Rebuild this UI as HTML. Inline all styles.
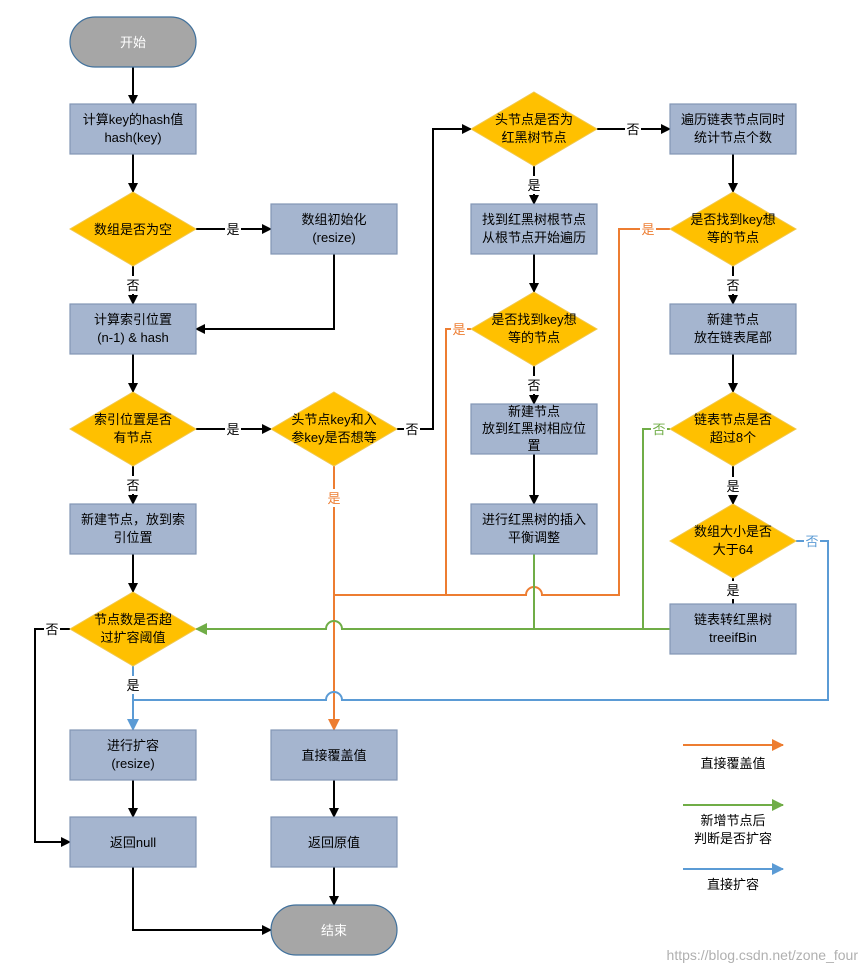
<!DOCTYPE html>
<html><head><meta charset="utf-8"><style>
html,body{margin:0;padding:0;background:#fff;}
svg{display:block;}
text{font-family:"Liberation Sans","Noto Sans CJK SC",sans-serif;font-size:13px;fill:#000;text-anchor:middle;}
.b{fill:#a5b5cf;stroke:#8396b5;stroke-width:1.2;}
.d{fill:#ffc000;stroke:#f0c850;stroke-width:1;}
.k{stroke:#000;stroke-width:2;fill:none;}
.o{stroke:#ed7d31;stroke-width:2;fill:none;}
.g{stroke:#70ad47;stroke-width:2;fill:none;}
.u{stroke:#5b9bd5;stroke-width:2;fill:none;}
</style></head><body>
<svg width="866" height="971" viewBox="0 0 866 971">
<defs>
<marker id="ak" markerWidth="10" markerHeight="10" refX="9" refY="5" orient="auto" markerUnits="userSpaceOnUse"><path d="M0,0 L10,5 L0,10 z" fill="#000"/></marker>
<marker id="ao" markerWidth="12" markerHeight="12" refX="11" refY="6" orient="auto" markerUnits="userSpaceOnUse"><path d="M0,0 L12,6 L0,12 z" fill="#ed7d31"/></marker>
<marker id="ag" markerWidth="12" markerHeight="12" refX="11" refY="6" orient="auto" markerUnits="userSpaceOnUse"><path d="M0,0 L12,6 L0,12 z" fill="#70ad47"/></marker>
<marker id="au" markerWidth="12" markerHeight="12" refX="11" refY="6" orient="auto" markerUnits="userSpaceOnUse"><path d="M0,0 L12,6 L0,12 z" fill="#5b9bd5"/></marker>
</defs>

<!-- black connectors -->
<path class="k" d="M133,67 V104" marker-end="url(#ak)"/>
<path class="k" d="M133,154 V192" marker-end="url(#ak)"/>
<path class="k" d="M133,266 V304" marker-end="url(#ak)"/>
<path class="k" d="M196,229 H271" marker-end="url(#ak)"/>
<path class="k" d="M334,254 V329 H196" marker-end="url(#ak)"/>
<path class="k" d="M133,354 V392" marker-end="url(#ak)"/>
<path class="k" d="M196,429 H271" marker-end="url(#ak)"/>
<path class="k" d="M397,429 H433 V129 H471" marker-end="url(#ak)"/>
<path class="k" d="M133,466 V504" marker-end="url(#ak)"/>
<path class="k" d="M133,554 V592" marker-end="url(#ak)"/>
<path class="k" d="M70,629 H35 V842 H70" marker-end="url(#ak)"/>
<path class="k" d="M133,780 V817" marker-end="url(#ak)"/>
<path class="k" d="M133,867 V930 H271" marker-end="url(#ak)"/>
<path class="k" d="M334,780 V817" marker-end="url(#ak)"/>
<path class="k" d="M334,867 V905" marker-end="url(#ak)"/>
<path class="k" d="M597,129 H670" marker-end="url(#ak)"/>
<path class="k" d="M534,166 V204" marker-end="url(#ak)"/>
<path class="k" d="M534,254 V292" marker-end="url(#ak)"/>
<path class="k" d="M534,366 V404" marker-end="url(#ak)"/>
<path class="k" d="M534,454 V504" marker-end="url(#ak)"/>
<path class="k" d="M733,154 V192" marker-end="url(#ak)"/>
<path class="k" d="M733,266 V304" marker-end="url(#ak)"/>
<path class="k" d="M733,354 V392" marker-end="url(#ak)"/>
<path class="k" d="M733,466 V504" marker-end="url(#ak)"/>
<path class="k" d="M733,578 V604" stroke-width="1"/>

<!-- orange -->
<path class="o" d="M334,466 V730" marker-end="url(#ao)"/>
<path class="o" d="M471,329 H446 V595 H334"/>
<path class="o" d="M670,229 H619 V595 H542 A8,8 0 0 0 526,595 H446"/>
<!-- green -->
<path class="g" d="M670,629 H342 A8,8 0 0 0 326,629 H196" marker-end="url(#ag)"/>
<path class="g" d="M534,554 V629"/>
<path class="g" d="M670,429 H643 V629"/>
<!-- blue -->
<path class="u" d="M796,541 H828 V700 H342 A8,8 0 0 0 326,700 H133 V730" marker-end="url(#au)"/>
<path class="u" d="M133,666 V700"/>

<!-- label backgrounds -->
<g fill="#fff">
<rect x="225" y="220" width="16" height="18"/><rect x="125" y="276" width="16" height="18"/>
<rect x="225" y="420" width="16" height="18"/><rect x="404" y="420" width="16" height="18"/>
<rect x="125" y="476" width="16" height="18"/><rect x="44" y="620" width="16" height="18"/>
<rect x="125" y="676" width="16" height="18"/><rect x="326" y="489" width="16" height="18"/>
<rect x="625" y="120" width="16" height="18"/><rect x="526" y="176" width="16" height="18"/>
<rect x="451" y="320" width="16" height="18"/><rect x="526" y="376" width="16" height="18"/>
<rect x="640" y="220" width="16" height="18"/><rect x="725" y="276" width="16" height="18"/>
<rect x="651" y="420" width="16" height="18"/><rect x="725" y="477" width="16" height="18"/>
<rect x="804" y="532" width="16" height="18"/><rect x="725" y="581" width="16" height="18"/>
</g>
<text x="233" y="234">是</text><text x="133" y="290">否</text>
<text x="233" y="434">是</text><text x="412" y="434">否</text>
<text x="133" y="490">否</text><text x="52" y="634">否</text>
<text x="133" y="690">是</text><text x="334" y="503" style="fill:#ed7d31">是</text>
<text x="633" y="134">否</text><text x="534" y="190">是</text>
<text x="459" y="334" style="fill:#ed7d31">是</text><text x="534" y="390">否</text>
<text x="648" y="234" style="fill:#ed7d31">是</text><text x="733" y="290">否</text>
<text x="659" y="434" style="fill:#70ad47">否</text><text x="733" y="491">是</text>
<text x="812" y="546" style="fill:#5b9bd5">否</text><text x="733" y="595">是</text>

<!-- pills -->
<rect x="70" y="17" width="126" height="50" rx="25" fill="#a6a6a6" stroke="#41719c" stroke-width="1.2"/>
<text x="133" y="47" style="fill:#fff">开始</text>
<rect x="271" y="905" width="126" height="50" rx="25" fill="#a6a6a6" stroke="#41719c" stroke-width="1.2"/>
<text x="334" y="935" style="fill:#fff">结束</text>

<!-- boxes -->
<rect class="b" x="70" y="104" width="126" height="50"/><text x="133" y="124">计算key的hash值</text><text x="133" y="142">hash(key)</text>
<rect class="b" x="271" y="204" width="126" height="50"/><text x="334" y="224">数组初始化</text><text x="334" y="242">(resize)</text>
<rect class="b" x="70" y="304" width="126" height="50"/><text x="133" y="324">计算索引位置</text><text x="133" y="342">(n-1) &amp; hash</text>
<rect class="b" x="70" y="504" width="126" height="50"/><text x="133" y="524">新建节点，放到索</text><text x="133" y="542">引位置</text>
<rect class="b" x="70" y="730" width="126" height="50"/><text x="133" y="750">进行扩容</text><text x="133" y="768">(resize)</text>
<rect class="b" x="70" y="817" width="126" height="50"/><text x="133" y="847">返回null</text>
<rect class="b" x="271" y="730" width="126" height="50"/><text x="334" y="760">直接覆盖值</text>
<rect class="b" x="271" y="817" width="126" height="50"/><text x="334" y="847">返回原值</text>
<rect class="b" x="471" y="204" width="126" height="50"/><text x="534" y="224">找到红黑树根节点</text><text x="534" y="242">从根节点开始遍历</text>
<rect class="b" x="471" y="404" width="126" height="50"/><text x="534" y="416">新建节点</text><text x="534" y="433">放到红黑树相应位</text><text x="534" y="450">置</text>
<rect class="b" x="471" y="504" width="126" height="50"/><text x="534" y="524">进行红黑树的插入</text><text x="534" y="542">平衡调整</text>
<rect class="b" x="670" y="104" width="126" height="50"/><text x="733" y="124">遍历链表节点同时</text><text x="733" y="142">统计节点个数</text>
<rect class="b" x="670" y="304" width="126" height="50"/><text x="733" y="324">新建节点</text><text x="733" y="342">放在链表尾部</text>
<rect class="b" x="670" y="604" width="126" height="50"/><text x="733" y="624">链表转红黑树</text><text x="733" y="642">treeifBin</text>

<!-- diamonds -->
<path class="d" d="M133,192 L196,229 L133,266 L70,229 z"/><text x="133" y="234">数组是否为空</text>
<path class="d" d="M133,392 L196,429 L133,466 L70,429 z"/><text x="133" y="424">索引位置是否</text><text x="133" y="442">有节点</text>
<path class="d" d="M334,392 L397,429 L334,466 L271,429 z"/><text x="334" y="424">头节点key和入</text><text x="334" y="442">参key是否想等</text>
<path class="d" d="M133,592 L196,629 L133,666 L70,629 z"/><text x="133" y="624">节点数是否超</text><text x="133" y="642">过扩容阈值</text>
<path class="d" d="M534,92 L597,129 L534,166 L471,129 z"/><text x="534" y="124">头节点是否为</text><text x="534" y="142">红黑树节点</text>
<path class="d" d="M534,292 L597,329 L534,366 L471,329 z"/><text x="534" y="324">是否找到key想</text><text x="534" y="342">等的节点</text>
<path class="d" d="M733,192 L796,229 L733,266 L670,229 z"/><text x="733" y="224">是否找到key想</text><text x="733" y="242">等的节点</text>
<path class="d" d="M733,392 L796,429 L733,466 L670,429 z"/><text x="733" y="424">链表节点是否</text><text x="733" y="442">超过8个</text>
<path class="d" d="M733,504 L796,541 L733,578 L670,541 z"/><text x="733" y="536">数组大小是否</text><text x="733" y="554">大于64</text>

<!-- legend -->
<path class="o" d="M683,745 H783" marker-end="url(#ao)"/><text x="733" y="768">直接覆盖值</text>
<path class="g" d="M683,805 H783" marker-end="url(#ag)"/><text x="733" y="825">新增节点后</text><text x="733" y="843">判断是否扩容</text>
<path class="u" d="M683,869 H783" marker-end="url(#au)"/><text x="733" y="889">直接扩容</text>

<text x="858" y="960" style="fill:#b0b0b0;text-anchor:end;font-size:14px">https://blog.csdn.net/zone_four</text>
</svg>
</body></html>
